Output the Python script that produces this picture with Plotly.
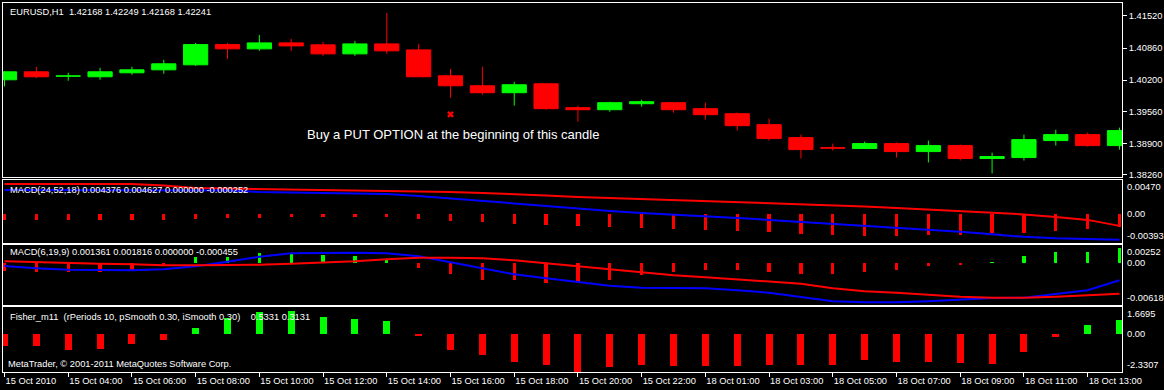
import plotly.graph_objects as go
from plotly.subplots import make_subplots

# ---------------- data ----------------
bar_index = list(range(36))
label_index = [0, 2, 4, 6, 8, 10, 12, 14, 16, 18, 20, 22, 24, 26, 28, 30, 32, 34]
time_labels = ["15 Oct 2010", "15 Oct 04:00", "15 Oct 06:00", "15 Oct 08:00", "15 Oct 10:00",
               "15 Oct 12:00", "15 Oct 14:00", "15 Oct 16:00", "15 Oct 18:00", "15 Oct 20:00",
               "15 Oct 22:00", "18 Oct 01:00", "18 Oct 03:00", "18 Oct 05:00", "18 Oct 07:00",
               "18 Oct 09:00", "18 Oct 11:00", "18 Oct 13:00"]

open_ = [1.40208, 1.40372, 1.40280, 1.40270, 1.40352, 1.40413, 1.40516, 1.40932, 1.40844, 1.40967,
         1.40926, 1.40741, 1.40946, 1.40823, 1.40290, 1.40085, 1.39942, 1.40126, 1.39634, 1.39593,
         1.39716, 1.39737, 1.39614, 1.39511, 1.39286, 1.39019, 1.38814, 1.38794, 1.38896, 1.38732,
         1.38855, 1.38589, 1.38609, 1.38958, 1.39081, 1.38855]
close = [1.40372, 1.40270, 1.40290, 1.40372, 1.40413, 1.40536, 1.40932, 1.40844, 1.40967, 1.40905,
         1.40741, 1.40946, 1.40803, 1.40270, 1.40085, 1.39942, 1.40106, 1.39614, 1.39593, 1.39737,
         1.39757, 1.39593, 1.39491, 1.39265, 1.38999, 1.38773, 1.38800, 1.38896, 1.38732, 1.38855,
         1.38589, 1.38630, 1.38978, 1.39081, 1.38855, 1.39163]
high = [1.40380, 1.40475, 1.40352, 1.40454, 1.40475, 1.40618, 1.40967, 1.40967, 1.41130, 1.41049,
        1.40987, 1.41008, 1.41582, 1.40946, 1.40434, 1.40475, 1.40167, 1.40126, 1.39675, 1.39757,
        1.39798, 1.39740, 1.39737, 1.39532, 1.39409, 1.39081, 1.38896, 1.38937, 1.38917, 1.38958,
        1.38876, 1.38712, 1.39081, 1.39183, 1.39122, 1.39224]
low = [1.40071, 1.40243, 1.40188, 1.40208, 1.40311, 1.40331, 1.40495, 1.40639, 1.40803, 1.40803,
       1.40700, 1.40700, 1.40741, 1.40265, 1.39839, 1.39901, 1.39675, 1.39593, 1.39347, 1.39552,
       1.39655, 1.39532, 1.39388, 1.39163, 1.38958, 1.38589, 1.38753, 1.38790, 1.38609, 1.38507,
       1.38548, 1.38282, 1.38548, 1.38855, 1.38835, 1.38773]

price_ticks = [1.41520, 1.40860, 1.40200, 1.39560, 1.38900, 1.38260]
signal_bar = 14
signal_price = 1.39497

# MACD(24,52,18)
macd1_main = [0.003285, 0.003285, 0.003285, 0.003285, 0.003285, 0.003285, 0.003285, 0.003217, 0.003015, 0.002948,
              0.002880, 0.002813, 0.002745, 0.002476, 0.002139, 0.001734, 0.001465, 0.001060, 0.000723, 0.000454,
              0.000184, -0.000018, -0.000220, -0.000490, -0.000759, -0.001029, -0.001299, -0.001568, -0.001770, -0.002040,
              -0.002377, -0.002714, -0.003051, -0.003253, -0.003388, -0.003455]
macd1_signal = [0.004093, 0.004093, 0.004093, 0.004093, 0.004093, 0.003891, 0.003554, 0.003487, 0.003419, 0.003352,
                0.003352, 0.003285, 0.003217, 0.003150, 0.003015, 0.002880, 0.002745, 0.002543, 0.002341, 0.002206,
                0.002071, 0.001937, 0.001802, 0.001667, 0.001532, 0.001397, 0.001263, 0.001060, 0.000858, 0.000656,
                0.000454, 0.000252, -0.000018, -0.000355, -0.000759, -0.001568]
macd1_hist = [-0.00080, -0.00080, -0.00080, -0.00080, -0.00080, -0.00075, -0.00060, -0.00055, -0.00050, -0.00042,
              -0.00040, -0.00035, -0.00030, -0.00065, -0.00085, -0.00105, -0.00125, -0.00140, -0.00155, -0.00170,
              -0.00190, -0.00200, -0.00215, -0.00230, -0.00245, -0.00265, -0.00283, -0.00297, -0.00297, -0.00283,
              -0.00283, -0.00247, -0.00247, -0.00230, -0.00200, -0.00170]
macd1_range = [-0.00393, 0.00470]
macd1_labels = ["0.00470", "0.00", "-0.00393"]

# MACD(6,19,9)
macd2_main = [-0.000482, -0.000815, -0.001033, -0.001105, -0.001105, -0.000960, -0.000525, 0.000128, 0.000853, 0.001360,
              0.001433, 0.001433, 0.001360, 0.000925, 0.000055, -0.000815, -0.001685, -0.002265, -0.002845, -0.003353,
              -0.003643, -0.003672, -0.003715, -0.004005, -0.004368, -0.004977, -0.005600, -0.005745, -0.005745, -0.005600,
              -0.005383, -0.005122, -0.005093, -0.004585, -0.004005, -0.002555]
macd2_signal = [0.000200, 0.000055, -0.000018, -0.000163, -0.000235, -0.000380, -0.000380, -0.000380, -0.000308, -0.000163,
                -0.000018, 0.000200, 0.000490, 0.000708, 0.000708, 0.000635, 0.000345, -0.000090, -0.000525, -0.000960,
                -0.001395, -0.001830, -0.002120, -0.002410, -0.002700, -0.003063, -0.003715, -0.004150, -0.004368, -0.004658,
                -0.004948, -0.005093, -0.005093, -0.004948, -0.004730, -0.004513]
macd2_hist = [-0.0012, -0.0014, -0.0014, -0.0013, -0.0010, -0.0003, 0.0008, 0.0008, 0.0014, 0.0014,
              0.0011, 0.0010, 0.0006, -0.0008, -0.0017, -0.0025, -0.0025, -0.0029, -0.0029, -0.0025,
              -0.0018, -0.0014, -0.0011, -0.0011, -0.0014, -0.0017, -0.0017, -0.0013, -0.0010, -0.0005,
              -0.0003, 0.0001, 0.0010, 0.0016, 0.0016, 0.0021]
macd2_range = [-0.00618, 0.00252]
macd2_labels = ["0.00252", "0.00", "-0.00618"]

# Fisher_m11
fisher = [-0.75, -0.75, -0.95, -0.89, -0.63, -0.34, 0.40, 1.00, 1.40, 1.45,
          1.09, 0.95, 0.83, -0.14, -0.95, -1.26, -1.69, -1.88, -2.30, -2.04,
          -1.88, -1.94, -1.94, -1.94, -1.88, -1.88, -1.88, -1.57, -1.69, -1.69,
          -1.75, -1.81, -1.08, -0.20, 0.58, 0.89]
fisher_range = [-2.3307, 1.6695]
fisher_labels = ["1.6695", "0.00", "-2.3307"]

# ---------------- style ----------------
GREEN = "#00FF00"
RED = "#FF0000"
BLUE = "#0000FF"
WHITE = "#FFFFFF"
FONT = "Liberation Sans"
FS = 9.3

W, H = 1164, 390
ML, MR, MT, MB = 2, 38, 2, 18
plot_h = H - MT - MB


def dom(top_px, bot_px):
    return [(H - MB - bot_px) / plot_h, (H - MB - top_px) / plot_h]


domains = [dom(2, 176), dom(179, 243), dom(245, 305), dom(307, 372)]
x_range = [-0.047, 35.078]

fig = make_subplots(rows=4, cols=1, shared_xaxes=True, vertical_spacing=0.01)

# candles: wicks
for flag, col in ((True, GREEN), (False, RED)):
    xs, ys = [], []
    for i in bar_index:
        if (close[i] >= open_[i]) == flag:
            xs += [i, i, None]
            ys += [low[i], high[i], None]
    fig.add_trace(go.Scatter(x=xs, y=ys, mode="lines", line=dict(color=col, width=1),
                             hoverinfo="skip", showlegend=False), row=1, col=1)

body_col = [GREEN if c >= o else RED for o, c in zip(open_, close)]
fig.add_trace(go.Bar(x=bar_index, y=[abs(c - o) for o, c in zip(open_, close)],
                     base=[min(o, c) for o, c in zip(open_, close)], width=0.76,
                     marker=dict(color=body_col, line=dict(color=body_col, width=1)),
                     hoverinfo="skip", showlegend=False), row=1, col=1)

fig.add_trace(go.Scatter(x=[signal_bar], y=[signal_price], mode="markers",
                         marker=dict(symbol="x", size=6, color=RED, line=dict(width=0)),
                         hoverinfo="skip", showlegend=False), row=1, col=1)

# MACD 1
fig.add_trace(go.Bar(x=bar_index, y=macd1_hist, width=0.1,
                     marker=dict(color=[GREEN if v > 0 else RED for v in macd1_hist], line=dict(width=0)),
                     hoverinfo="skip", showlegend=False), row=2, col=1)
fig.add_trace(go.Scatter(x=bar_index, y=macd1_signal, mode="lines", line=dict(color=RED, width=2),
                         hoverinfo="skip", showlegend=False), row=2, col=1)
fig.add_trace(go.Scatter(x=bar_index, y=macd1_main, mode="lines", line=dict(color=BLUE, width=2),
                         hoverinfo="skip", showlegend=False), row=2, col=1)

# MACD 2
fig.add_trace(go.Bar(x=bar_index, y=macd2_hist, width=0.1,
                     marker=dict(color=[GREEN if v > 0 else RED for v in macd2_hist], line=dict(width=0)),
                     hoverinfo="skip", showlegend=False), row=3, col=1)
fig.add_trace(go.Scatter(x=bar_index, y=macd2_main, mode="lines", line=dict(color=BLUE, width=2),
                         hoverinfo="skip", showlegend=False), row=3, col=1)
fig.add_trace(go.Scatter(x=bar_index, y=macd2_signal, mode="lines", line=dict(color=RED, width=2),
                         hoverinfo="skip", showlegend=False), row=3, col=1)

# Fisher
fig.add_trace(go.Bar(x=bar_index, y=fisher, width=0.22,
                     marker=dict(color=[GREEN if v > 0 else RED for v in fisher], line=dict(width=0)),
                     hoverinfo="skip", showlegend=False), row=4, col=1)

axis_common = dict(showline=True, mirror=True, linecolor=WHITE, linewidth=1,
                   showgrid=False, zeroline=False)

for r in range(1, 5):
    xa = "xaxis" if r == 1 else f"xaxis{r}"
    fig.layout[xa].update(range=x_range, domain=[0, 1], **axis_common)
    if r < 4:
        fig.layout[xa].update(showticklabels=False, ticks="")

fig.layout.xaxis4.update(tickmode="array", tickvals=label_index, ticktext=time_labels,
                         ticks="outside", ticklen=4, tickcolor=WHITE, tickwidth=1,
                         ticklabelposition="outside right",
                         tickfont=dict(color=WHITE, size=FS, family=FONT))

fig.layout.yaxis.update(domain=domains[0], range=[1.38219, 1.41787], side="right",
                        tickmode="array", tickvals=price_ticks,
                        ticktext=[f"{v:.5f}" for v in price_ticks],
                        ticks="outside", ticklen=4, tickcolor=WHITE, tickwidth=1,
                        tickfont=dict(color=WHITE, size=FS, family=FONT), **axis_common)

ind_specs = [("yaxis2", "y2", macd1_range, macd1_labels, domains[1]),
             ("yaxis3", "y3", macd2_range, macd2_labels, domains[2]),
             ("yaxis4", "y4", fisher_range, fisher_labels, domains[3])]

annotations = []
for ya, yref, rng, labels, d in ind_specs:
    fig.layout[ya].update(domain=d, range=rng, side="right", showticklabels=False, ticks="", **axis_common)
    for val, txt, anc in ((rng[1], labels[0], "top"), (0, labels[1], "middle"), (rng[0], labels[2], "bottom")):
        annotations.append(dict(x=1, xref="paper", y=val, yref=yref, text=txt, showarrow=False,
                                xanchor="left", yanchor=anc, xshift=3,
                                font=dict(color=WHITE, size=FS, family=FONT)))


def px_to_paper_y(py):
    return (H - MB - py) / plot_h


def px_to_paper_x(px):
    return (px - ML) / (W - ML - MR)


texts = [
    ("EURUSD,H1\u00a0\u00a01.42168 1.42249 1.42168 1.42241", 7, 11),
    ("MACD(24,52,18) 0.004376 0.004627 0.000000 -0.000252", 7, 189.5),
    ("MACD(6,19,9) 0.001361 0.001816 0.000000 -0.000455", 7, 252),
    ("Fisher_m11\u00a0\u00a0(rPeriods 10, pSmooth 0.30, iSmooth 0.30)\u00a0\u00a0\u00a0 0.5331 0.3131", 7, 317),
    ("MetaTrader, © 2001-2011 MetaQuotes Software Corp.", 5.5, 364),
]
for txt, px, py in texts:
    annotations.append(dict(x=px_to_paper_x(px), y=px_to_paper_y(py), xref="paper", yref="paper",
                            text=txt, showarrow=False, xanchor="left", yanchor="middle",
                            font=dict(color=WHITE, size=FS, family=FONT)))

annotations.append(dict(x=px_to_paper_x(305), y=px_to_paper_y(134), xref="paper", yref="paper",
                        text="Buy a PUT OPTION at the beginning of this candle", showarrow=False,
                        xanchor="left", yanchor="middle",
                        font=dict(color=WHITE, size=13, family=FONT)))

fig.update_layout(width=W, height=H, margin=dict(l=ML, r=MR, t=MT, b=MB),
                  paper_bgcolor="black", plot_bgcolor="black", showlegend=False,
                  hovermode=False, bargap=0, annotations=annotations,
                  font=dict(family=FONT, color=WHITE, size=FS))

fig.write_html("out.html", config={"displayModeBar": False, "staticPlot": True},
               post_script="document.body.style.margin='0';document.body.style.padding='0';"
                           "document.body.style.overflow='hidden';"
                           "document.body.style.background='black';")
